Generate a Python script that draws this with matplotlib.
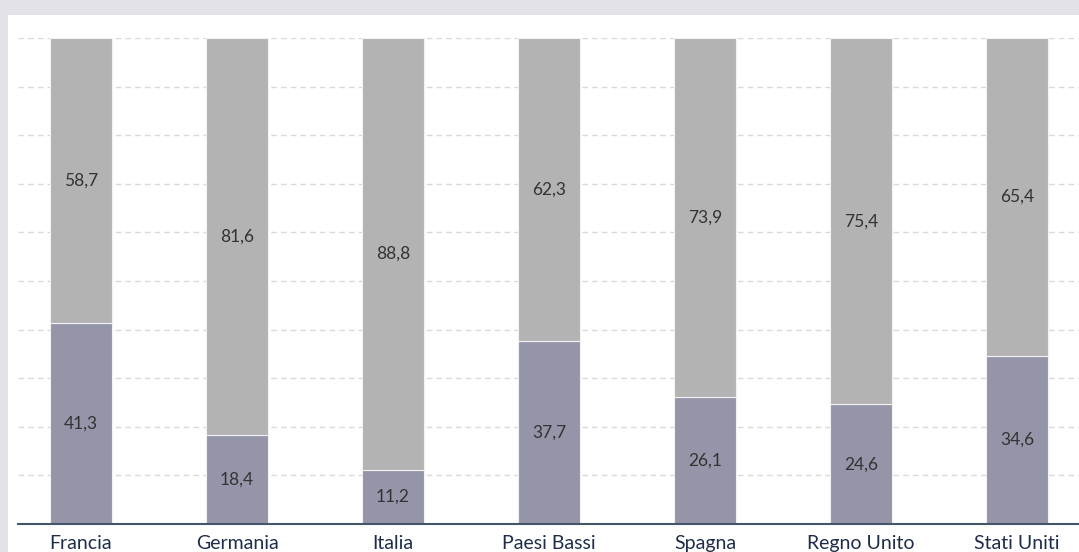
import numpy as np
import matplotlib.pyplot as plt
from matplotlib.patches import Rectangle

countries = ["Francia", "Germania", "Italia", "Paesi Bassi", "Spagna", "Regno Unito", "Stati Uniti"]
bottom_vals = [41.3, 18.4, 11.2, 37.7, 26.1, 24.6, 34.6]
top_vals = [58.7, 81.6, 88.8, 62.3, 73.9, 75.4, 65.4]

C_BOTTOM = "#9595a9"
C_TOP = "#b3b3b3"
W, H = 1079, 552

plt.rcParams["font.family"] = ["Lato", "DejaVu Sans"]

fig = plt.figure(figsize=(W / 100, H / 100), dpi=100)
fig.patch.set_facecolor("#e3e2e8")
fig.patches.append(Rectangle((8 / W, 0), 1 - 8 / W, (H - 15) / H, transform=fig.transFigure,
                             facecolor="white", edgecolor="none", zorder=-10))

ax = fig.add_axes([18 / W, (H - 524) / H, (W - 18) / W, (524 - 38) / H])
ax.set_facecolor("none")
ax.set_zorder(1)

x = np.arange(len(countries))
bw = 0.4
ax.bar(x, bottom_vals, bw, color=C_BOTTOM, edgecolor="#f2f2f2", linewidth=0.8, zorder=3)
ax.bar(x, top_vals, bw, bottom=bottom_vals, color=C_TOP, edgecolor="#f2f2f2", linewidth=0.8, zorder=3)

fmt = lambda v: f"{v:.1f}".replace(".", ",")
for i, (b, t) in enumerate(zip(bottom_vals, top_vals)):
    ax.text(i, b / 2, fmt(b), ha="center", va="center", fontsize=12.5, color="#333333", zorder=4)
    ax.text(i, b + t / 2, fmt(t), ha="center", va="center", fontsize=12.5, color="#333333", zorder=4)

ax.set_xlim(-0.404, x[-1] + (W - 1017) / 156)
ax.set_ylim(0, 100)
ax.set_yticks(np.arange(10, 101, 10))
ax.yaxis.grid(True, linestyle=(0, (4, 3)), color="#d9d9d9", linewidth=1, zorder=0)
ax.tick_params(axis="y", left=False, labelleft=False)
ax.set_xticks(x)
ax.set_xticklabels(countries, fontsize=14, color="#1f2d4a")
ax.tick_params(axis="x", length=0, pad=8)
for s in ["top", "right", "left"]:
    ax.spines[s].set_visible(False)
ax.spines["bottom"].set_color("#44546a")
ax.spines["bottom"].set_linewidth(1.5)
ax.spines["bottom"].set_zorder(5)

fig.savefig("out.png", dpi=100, facecolor=fig.get_facecolor())
